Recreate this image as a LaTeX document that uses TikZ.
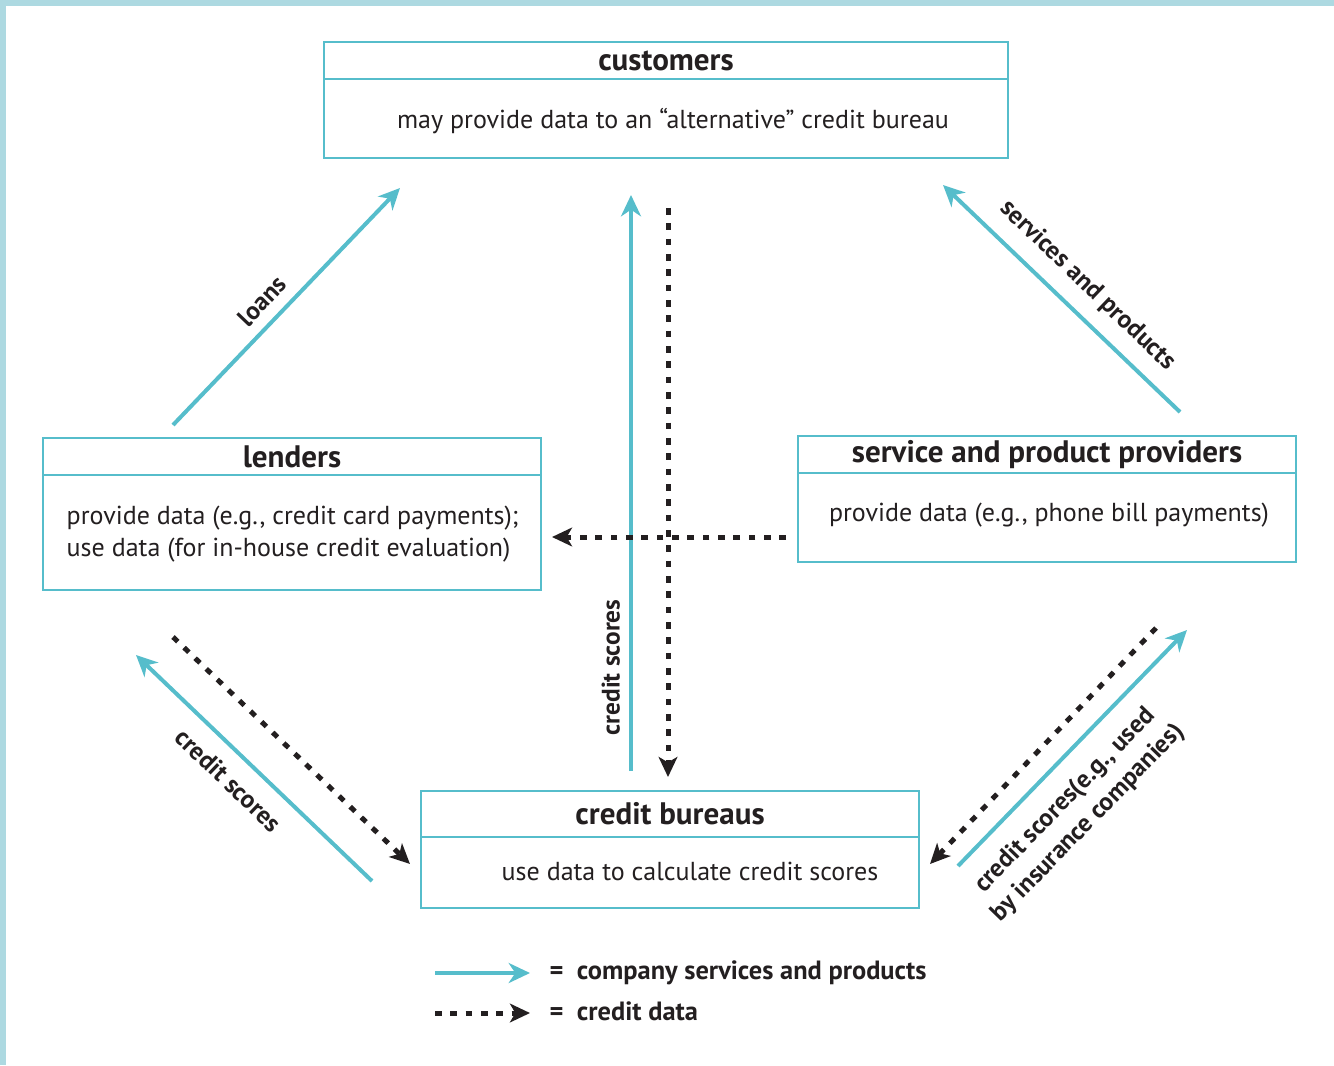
\documentclass[tikz,border=0pt]{standalone}
\usepackage{fontspec}
\setmainfont{PT Sans}
\usetikzlibrary{arrows.meta,positioning}

\begin{document}
\begin{tikzpicture}[x=0.75pt,y=-0.75pt]
    \definecolor{myteal}{RGB}{86,189,203}
    \definecolor{myframe}{RGB}{173,217,225}
    \definecolor{myink}{RGB}{35,31,32}

    % styles
    \tikzstyle{box}=[rectangle,draw=myteal,line width=1.6pt,inner sep=0pt]
    \tikzstyle{head}=[box,text=myink,font=\fontsize{23.3pt}{25pt}\selectfont\bfseries]
    \tikzstyle{body}=[text=myink,align=center,font=\fontsize{19.5pt}{24pt}\selectfont]
    \tikzstyle{lbl}=[text=myink,align=center,font=\fontsize{19pt}{24pt}\selectfont\bfseries]
    \tikzstyle{flow}=[draw=myteal,line width=3pt,-{Stealth[length=16pt,width=15pt,inset=5pt]}]
    \tikzstyle{data}=[draw=myink,line width=3.75pt,dash pattern=on 5pt off 6.5pt,-{Stealth[length=15pt,width=14pt,inset=4pt]}]

    \useasboundingbox (0,0) rectangle (1334,1065);
    \fill[myframe] (0,0) rectangle (1334,6);
    \fill[myframe] (0,0) rectangle (6,1065);

    % boxes
    \node[box,minimum width=513pt,minimum height=87pt](cust) at (666,100) {};
    \node[head,minimum width=513pt,minimum height=27.75pt,below=0pt of cust.north](custT) {customers};
    \node[body](custB) at (673,121) {may provide data to an “alternative” credit bureau};

    \node[box,minimum width=373.5pt,minimum height=114pt](lend) at (292,514) {};
    \node[head,minimum width=373.5pt,minimum height=27.75pt,below=0pt of lend.north](lendT) {lenders};
    \node[body,align=left,anchor=west](lendB) at (62,534) {provide data (e.g., credit card payments);\\use data (for in-house credit evaluation)};

    \node[box,minimum width=373.5pt,minimum height=94.5pt](serv) at (1047,499) {};
    \node[head,minimum width=373.5pt,minimum height=27.75pt,below=0pt of serv.north](servT) {service and product providers};
    \node[body](servB) at (1049,515) {provide data (e.g., phone bill payments)};

    \node[box,minimum width=373.5pt,minimum height=87.75pt](bur) at (670,849.5) {};
    \node[head,minimum width=373.5pt,minimum height=34.5pt,below=0pt of bur.north](burT) {credit bureaus};
    \node[body](burB) at (690,871) {use data to calculate credit scores};

    % arrow ends
    \coordinate (loanA) at (173,425);  \coordinate (loanB) at (400,188);
    \coordinate (upA) at (631,771);    \coordinate (upB) at (631,195);
    \coordinate (downA) at (668,208);  \coordinate (downB) at (668,777);
    \coordinate (servA) at (1180,412); \coordinate (servB2) at (943,185);
    \coordinate (provA) at (786,537);  \coordinate (provB) at (552,537);
    \coordinate (scA) at (372,881);    \coordinate (scB) at (136,655);
    \coordinate (ldA) at (173,637);    \coordinate (ldB) at (410,864);
    \coordinate (sdA) at (1156,628);   \coordinate (sdB) at (930,864);
    \coordinate (insA) at (958,866);   \coordinate (insB) at (1187,630);

    % arrows
    \draw[flow](loanA) -- node[lbl,sloped,above=4.5pt,pos=0.46]{loans} (loanB);
    \draw[flow](upA) -- node[lbl,sloped,above=3.5pt,pos=0.18]{credit scores} (upB);
    \draw[data](downA) -- (downB);
    \draw[flow](servA) -- node[lbl,sloped,above=7pt,pos=0.47]{services and products} (servB2);
    \draw[data](provA) -- (provB);
    \draw[flow](scA) -- node[lbl,sloped,below=8pt,pos=0.53]{credit scores} (scB);
    \draw[data](ldA) -- (ldB);
    \draw[data](sdA) -- (sdB);
    \draw[flow](insA) -- node[lbl,sloped,below=10pt,pos=0.37]{credit scores(e.g., used\\by insurance companies)} (insB);

    % legend
    \coordinate (legA) at (435,973);  \coordinate (legB) at (530,973);
    \coordinate (legC) at (435,1013); \coordinate (legD) at (530,1013);
    \draw[flow](legA) -- (legB);
    \draw[data](legC) -- (legD);
    \node[lbl,anchor=west,font=\fontsize{19.8pt}{24pt}\selectfont\bfseries](leg1) at (545,973) {=\ \ company services and products};
    \node[lbl,anchor=west,font=\fontsize{19.8pt}{24pt}\selectfont\bfseries](leg2) at (545,1011) {=\ \ credit data};
\end{tikzpicture}
\end{document}
